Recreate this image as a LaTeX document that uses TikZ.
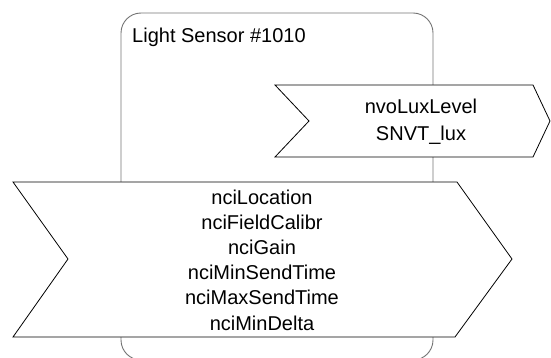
\documentclass[tikz,border=0pt]{standalone}
\usepackage{fontspec}
\setmainfont{Liberation Sans}
\begin{document}
\begin{tikzpicture}[x=1pt,y=-1pt,
  boxline/.style={draw=black!55,line width=0.9pt,rounded corners=20pt},
  chev/.style={draw=black,fill=white,line width=0.8pt},
  lbl/.style={font=\fontsize{20}{25.2}\selectfont,align=center,inner sep=0pt}]
\useasboundingbox (0,0) rectangle (551,358);
\draw[boxline] (121,13) rectangle (433,360);
\node[lbl,anchor=base west] (title) at (132,43) {Light Sensor \#1010};
\draw[chev] (275,85) -- (533,85) -- (550,121) -- (533,157) -- (275,157) -- (309,121) -- cycle;
\node[lbl,font=\fontsize{20}{26.5}\selectfont] (out) at (421,121.5) {nvoLuxLevel\\SNVT\_lux};
\draw[chev] (13,182) -- (457,182) -- (512,259) -- (455,337) -- (13,337) -- (68,259) -- cycle;
\node[lbl] (cfg) at (262,260) {nciLocation\\nciFieldCalibr\\nciGain\\nciMinSendTime\\nciMaxSendTime\\nciMinDelta};
\end{tikzpicture}
\end{document}
